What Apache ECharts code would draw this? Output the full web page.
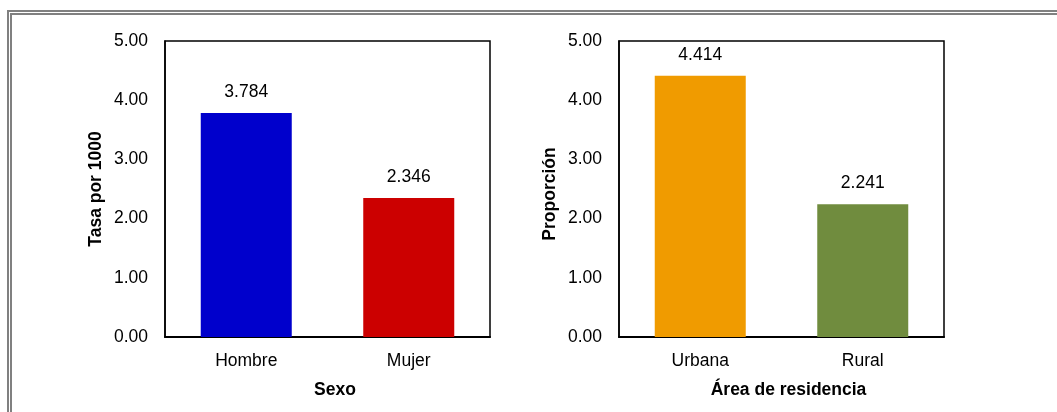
<!DOCTYPE html>
<html>
<head>
<meta charset="utf-8">
<script src="https://cdn.jsdelivr.net/npm/echarts@6/dist/echarts.min.js"></script>
<style>
  html, body { margin: 0; padding: 0; background: #fff; }
  #chart { width: 1057px; height: 412px; }
</style>
</head>
<body>
<div id="chart"></div>
<script>
// Tasa por 1000 según sexo
const sexoCategorias = ['Hombre', 'Mujer'];
const sexoValores = [3.784, 2.346];
const sexoColores = ['#0000CC', '#CC0000'];

// Proporción según área de residencia
const areaCategorias = ['Urbana', 'Rural'];
const areaValores = [4.414, 2.241];
const areaColores = ['#F09B00', '#708C3E'];

const yMin = 0, yMax = 5, yStep = 1;

const FONT = '"Liberation Sans", Arial, sans-serif';
const FS = 17.5;

const chart = echarts.init(document.getElementById('chart'), null, { renderer: 'canvas' });

function xAxisDef(gridIndex, cats, name, shift) {
  return {
    type: 'category', gridIndex, data: cats,
    name, nameLocation: 'middle', nameGap: 44,
    nameTextStyle: { fontFamily: FONT, fontSize: FS, fontWeight: 'bold', color: '#000', padding: [0, 0, 0, shift] },
    axisLine: { lineStyle: { color: '#000', width: 2 } },
    axisTick: { show: false },
    axisLabel: { fontFamily: FONT, fontSize: FS, color: '#000', margin: 15 }
  };
}

function yAxisDef(gridIndex, name, gap, shift) {
  return {
    type: 'value', gridIndex, min: yMin, max: yMax, interval: yStep,
    name, nameLocation: 'middle', nameGap: gap,
    nameTextStyle: { fontFamily: FONT, fontSize: FS, fontWeight: 'bold', color: '#000', padding: [0, shift, 0, 0] },
    axisLine: { show: true, lineStyle: { color: '#000', width: 1.5 } },
    axisTick: { show: false },
    splitLine: { show: false },
    axisLabel: { fontFamily: FONT, fontSize: FS, color: '#000', margin: 17, formatter: v => v.toFixed(2) }
  };
}

function barSeries(idx, values, colors) {
  return {
    type: 'bar', xAxisIndex: idx, yAxisIndex: idx,
    barWidth: '56%',
    data: values.map((v, i) => ({ value: v, itemStyle: { color: colors[i] } })),
    label: {
      show: true, position: 'top', distance: 12,
      fontFamily: FONT, fontSize: FS, color: '#000',
      formatter: p => p.value.toFixed(3)
    }
  };
}

chart.setOption({
  animation: false,
  backgroundColor: '#fff',
  grid: [
    { left: 165, top: 41, width: 325, height: 296, show: true, borderColor: '#000', borderWidth: 1.5, backgroundColor: 'transparent' },
    { left: 619, top: 41, width: 325, height: 296, show: true, borderColor: '#000', borderWidth: 1.5, backgroundColor: 'transparent' }
  ],
  xAxis: [
    xAxisDef(0, sexoCategorias, 'Sexo', 15),
    xAxisDef(1, areaCategorias, 'Área de residencia', 14)
  ],
  yAxis: [
    yAxisDef(0, 'Tasa por 1000', 60, 0),
    yAxisDef(1, 'Proporción', 60, 10)
  ],
  series: [
    barSeries(0, sexoValores, sexoColores),
    barSeries(1, areaValores, areaColores)
  ],
  graphic: [
    // double grey frame around the figure
    { type: 'polyline', silent: true, shape: { points: [[8, 420], [8, 11], [1065, 11]] }, style: { stroke: '#808080', lineWidth: 2, fill: null } },
    { type: 'polyline', silent: true, shape: { points: [[11, 420], [11, 14], [1065, 14]] }, style: { stroke: '#808080', lineWidth: 2, fill: null } }
  ]
});
</script>
</body>
</html>
